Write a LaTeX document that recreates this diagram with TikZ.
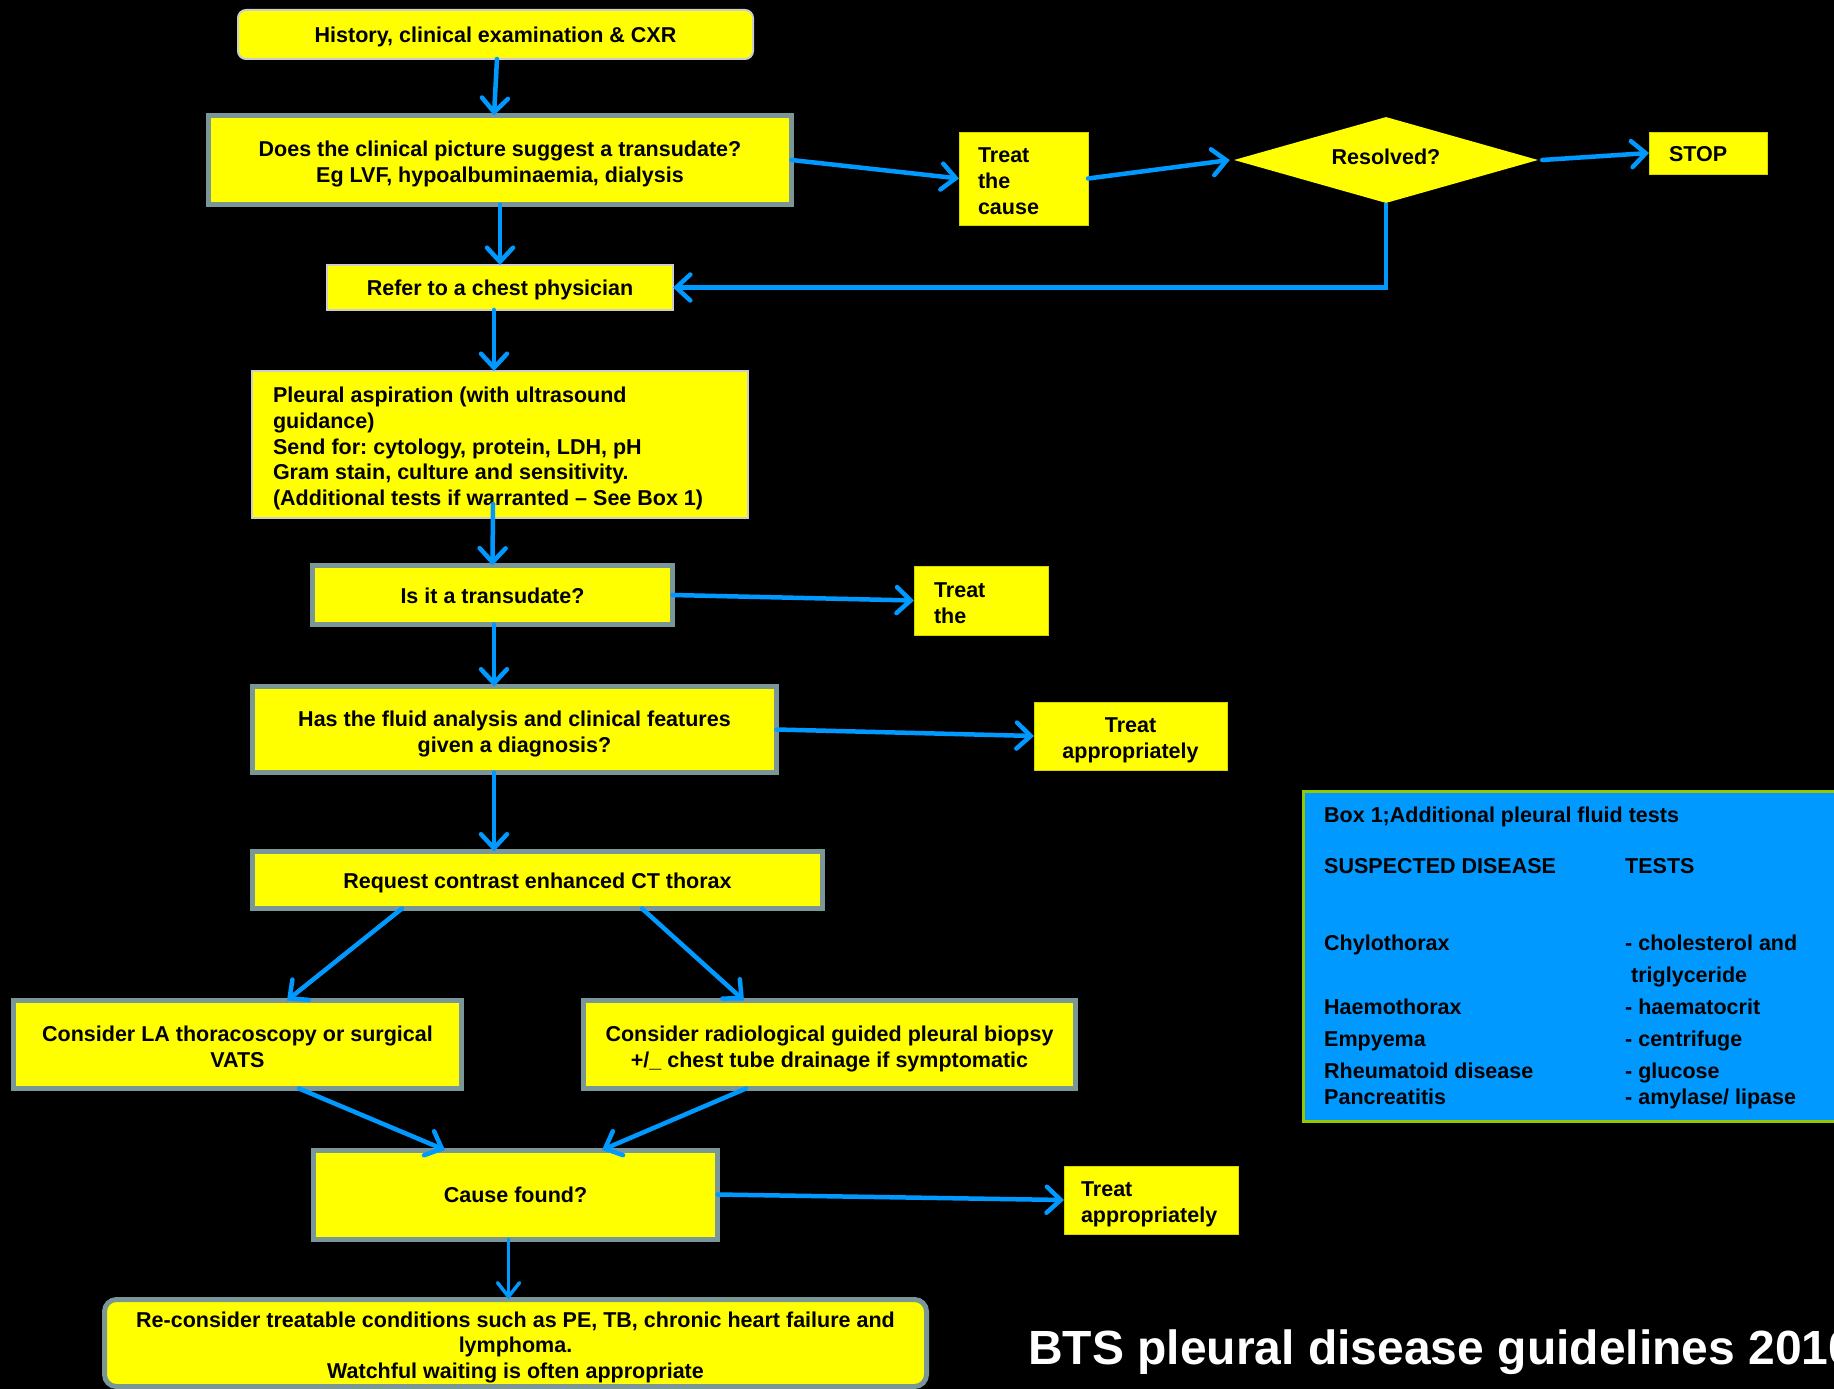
\documentclass[tikz,border=0pt]{standalone}
\usepackage{fontspec}
\setmainfont{Liberation Sans}
\usetikzlibrary{arrows.meta,shapes.geometric,calc}
\definecolor{flowyellow}{RGB}{255,255,0}
\definecolor{flowblue}{RGB}{0,153,255}
\definecolor{framegray}{RGB}{122,150,150}
\definecolor{paleframe}{RGB}{205,205,205}
\definecolor{boxgreen}{RGB}{150,200,0}
\definecolor{edgeyellow}{RGB}{215,215,0}
% struts giving every box line the same ascent and descent
\newcommand{\topstrut}{\rule[-4.6pt]{0pt}{26.1pt}}
\newcommand{\tallstrut}{\rule[-4.6pt]{0pt}{28.6pt}}
\newcommand{\botstrut}{\rule[-4.6pt]{0pt}{4.6pt}}

\begin{document}
\frenchspacing
\begin{tikzpicture}[x=1pt,y=-1pt,
  every node/.style={font=\bfseries\fontsize{21.5}{25.7}\selectfont, text=black},
  ybox/.style={fill=flowyellow, inner ysep=0pt, outer sep=0pt,
    execute at begin node=\topstrut, execute at end node=\botstrut},
  mline/.style={execute at begin node=\tallstrut},
  heavy/.style={ybox, draw=framegray, line width=5pt, align=flush center},
  light/.style={ybox, draw=paleframe, line width=2pt, align=flush center},
  plain/.style={ybox, draw=edgeyellow, line width=0.8pt},
  arr/.style={draw=flowblue, line width=4.5pt, line cap=round,
    -{Straight Barb[length=14pt,width=26pt,line cap=round]}},
  thinarr/.style={draw=flowblue, line width=3.5pt, line cap=round,
    -{Straight Barb[length=14pt,width=22pt,line cap=round]}},
  sidetext/.style={anchor=base west, inner sep=0pt},
]
% canvas
\useasboundingbox[fill=black] (0,0) rectangle (1834,1389);
\clip (0,0) rectangle (1834,1389);

% main column
\node[light, rounded corners=8pt, minimum width=515pt, minimum height=49pt]
  (hist) at (495.5,34.5) {History, clinical examination \& CXR};
\node[heavy, mline, minimum width=583pt, minimum height=89pt,
  text width=559pt, inner xsep=12pt]
  (clin) at (500,160) {Does the clinical picture suggest a transudate?\\Eg LVF, hypoalbuminaemia, dialysis};
\node[light, minimum width=346pt, minimum height=45pt]
  (refer) at (500,287.5) {Refer to a chest physician};
\node[light, mline, align=flush left, minimum width=496pt, minimum height=147pt,
  text width=454pt, inner xsep=21pt]
  (pleural) at (500,444.5) {Pleural aspiration (with ultrasound\\guidance)\\Send for: cytology, protein, LDH, pH\\Gram stain, culture and sensitivity.\\(Additional tests if warranted -- See Box 1)};
\node[heavy, minimum width=360pt, minimum height=59pt]
  (istrans) at (492.5,595) {Is it a transudate?};
\node[heavy, mline, minimum width=524pt, minimum height=86pt,
  text width=500pt, inner xsep=12pt]
  (fluid) at (514.5,729.5) {Has the fluid analysis and clinical features\\given a diagnosis?};
\node[heavy, minimum width=570pt, minimum height=57pt]
  (ct) at (537.5,880) {Request contrast enhanced CT thorax};
\node[heavy, mline, minimum width=448pt, minimum height=88pt,
  text width=424pt, inner xsep=12pt]
  (la) at (237.5,1044.5) {Consider LA thoracoscopy or surgical\\VATS};
\node[heavy, mline, minimum width=492pt, minimum height=88pt,
  text width=470pt, inner xsep=11pt]
  (rad) at (829.5,1044.5) {Consider radiological guided pleural biopsy\\+/\_ chest tube drainage if symptomatic};
\node[heavy, minimum width=404pt, minimum height=89pt]
  (cause) at (515.5,1194.5) {Cause found?};
\node[heavy, mline, rounded corners=12pt, minimum width=822pt, minimum height=87pt,
  text width=800pt, inner xsep=11pt]
  (recon) at (515.5,1343) {Re-consider treatable conditions such as PE, TB, chronic heart failure and\\lymphoma.\\Watchful waiting is often appropriate};

% side branches
\node[plain, mline, align=flush left, minimum width=129pt, minimum height=93pt,
  text width=91pt, inner xsep=19pt, font=\bfseries\fontsize{21.5}{26}\selectfont]
  (treatcause) at (1023.5,178.5) {Treat\\the\\cause};
\node[diamond, aspect=3.53, fill=flowyellow, inner sep=0pt,
  minimum width=304pt, minimum height=86pt]
  (resolved) at (1386,160) {\raisebox{3.5pt}[\height][\depth]{Resolved?}};
\node[plain, align=flush left, minimum width=118pt, minimum height=42pt,
  text width=78pt, inner xsep=20pt]
  (stop) at (1708,153) {STOP};
\node[plain, mline, align=flush left, minimum width=134pt, minimum height=69pt,
  text width=94pt, inner xsep=20pt]
  (treatthe) at (981,600.5) {Treat\\the};
\node[plain, mline, align=flush center, minimum width=193pt, minimum height=68pt,
  text width=171pt, inner xsep=11pt]
  (treatappA) at (1130.5,736) {Treat\\appropriately};
\node[plain, mline, align=flush left, minimum width=174pt, minimum height=68pt,
  text width=140pt, inner xsep=17pt]
  (treatappB) at (1151,1200) {Treat\\appropriately};

% Box 1
\node[fill=flowblue, draw=boxgreen, line width=2.5pt, anchor=north west,
  minimum width=560pt, minimum height=330pt, inner sep=0pt]
  (box1) at (1302,790) {};
\node[sidetext] (b1title) at (1324,822.5) {Box 1;Additional pleural fluid tests};
\node[sidetext] (b1dis) at (1324,873.5) {SUSPECTED DISEASE};
\node[sidetext] (b1tests) at (1625,873.5) {TESTS};
\node[sidetext] (b1da) at (1324,950.5) {Chylothorax};
\node[sidetext] (b1ta) at (1625,950.5) {- cholesterol and};
\node[sidetext] (b1tb) at (1631,982.5) {triglyceride};
\node[sidetext] (b1dc) at (1324,1014.5) {Haemothorax};
\node[sidetext] (b1tc) at (1625,1014.5) {- haematocrit};
\node[sidetext] (b1dd) at (1324,1046.5) {Empyema};
\node[sidetext] (b1td) at (1625,1046.5) {- centrifuge};
\node[sidetext] (b1de) at (1324,1078.5) {Rheumatoid disease};
\node[sidetext] (b1te) at (1625,1078.5) {- glucose};
\node[sidetext] (b1df) at (1324,1104.5) {Pancreatitis};
\node[sidetext] (b1tf) at (1625,1104.5) {- amylase/ lipase};

% caption
\node[sidetext, text=white, font=\bfseries\fontsize{48}{58}\selectfont]
  (caption) at (1028,1364) {BTS pleural disease guidelines 2010};

% connectors
\draw[arr] ([xshift=1.5pt]hist.south) -- ([xshift=-6pt]clin.north);
\draw[arr] (clin.east) -- (treatcause.west);
\draw[arr] (treatcause.east) -- ([xshift=-4pt]resolved.west);
\draw[arr] ([xshift=4pt]resolved.east) -- (stop.west);
\draw[arr, line cap=butt] (resolved.south) |- (refer.east);
\draw[arr] (clin.south) -- (refer.north);
\draw[arr] ([xshift=-6pt]refer.south) -- ([xshift=-6pt]pleural.north);
\draw[arr] ([xshift=-7pt,yshift=14pt]pleural.south) -- (istrans.north);
\draw[arr] (istrans.east) -- (treatthe.west);
\draw[arr] ([xshift=1.5pt]istrans.south) -- ([xshift=-20.5pt]fluid.north);
\draw[arr] (fluid.east) -- (treatappA.west);
\draw[arr] ([xshift=-20.5pt]fluid.south) -- ([xshift=-43.5pt]ct.north);
\draw[arr] ([xshift=-135.5pt]ct.south) -- ([xshift=49.5pt]la.north);
\draw[arr] ([xshift=104.5pt]ct.south) -- ([xshift=-85.5pt]rad.north);
\draw[arr] ([xshift=61.5pt]la.south) -- ([xshift=-70.5pt]cause.north);
\draw[arr] ([xshift=-83.5pt]rad.south) -- ([xshift=86.5pt]cause.north);
\draw[arr] (cause.east) -- (treatappB.west);
\draw[thinarr] ([xshift=-7pt]cause.south) -- ([xshift=-7pt]recon.north);
\end{tikzpicture}
\end{document}
